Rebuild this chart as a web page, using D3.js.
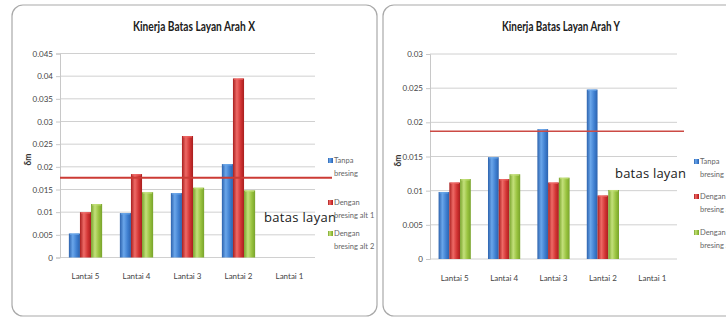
<!DOCTYPE html>
<html>
<head>
<meta charset="utf-8">
<script src="https://cdn.jsdelivr.net/npm/d3@7/dist/d3.min.js"></script>
<style>
  html, body { margin: 0; padding: 0; background: #ffffff; }
  svg { display: block; }
</style>
</head>
<body>
<svg id="chart" width="726" height="322"></svg>
<script>
// Floors and series
const floors = ["Lantai 5", "Lantai 4", "Lantai 3", "Lantai 2", "Lantai 1"];
const seriesNames = ["Tanpa bresing", "Dengan bresing alt 1", "Dengan bresing alt 2"];

// Drift in X direction (δm)
const driftX_tanpa = [0.0053, 0.0098, 0.0142, 0.0206, null];
const driftX_alt1  = [0.0100, 0.0184, 0.0268, 0.0395, null];
const driftX_alt2  = [0.0118, 0.0144, 0.0154, 0.0148, null];
const limitX = 0.0176;
const ticksX = [0, 0.005, 0.01, 0.015, 0.02, 0.025, 0.03, 0.035, 0.04, 0.045];

// Drift in Y direction (δm)
const driftY_tanpa = [0.0098, 0.0149, 0.0190, 0.0248, null];
const driftY_alt1  = [0.0112, 0.0117, 0.0112, 0.0093, null];
const driftY_alt2  = [0.0117, 0.0124, 0.0119, 0.0101, null];
const limitY = 0.0187;
const ticksY = [0, 0.005, 0.01, 0.015, 0.02, 0.025, 0.03];

const svg = d3.select("#chart");
const small = "Lato, 'Liberation Sans', sans-serif";

// Cylinder-like shading for each series
const shades = [
  { id: "gBlue",  dark: "#2c62ad", mid: "#3f7fd0", light: "#6aa6ea" },
  { id: "gRed",   dark: "#a81e1e", mid: "#d23434", light: "#ee6a66" },
  { id: "gGreen", dark: "#78a32c", mid: "#98c23e", light: "#c3e07a" }
];
const defs = svg.append("defs");
shades.forEach(s => {
  const g = defs.append("linearGradient").attr("id", s.id)
    .attr("x1", "0%").attr("x2", "100%").attr("y1", "0%").attr("y2", "0%");
  g.append("stop").attr("offset", "0%").attr("stop-color", s.dark);
  g.append("stop").attr("offset", "35%").attr("stop-color", s.light);
  g.append("stop").attr("offset", "70%").attr("stop-color", s.mid);
  g.append("stop").attr("offset", "100%").attr("stop-color", s.dark);
});

function drawPanel(cfg) {
  const g = svg.append("g");

  // panel frame
  g.append("rect")
    .attr("x", cfg.frame[0]).attr("y", cfg.frame[1])
    .attr("width", cfg.frame[2]).attr("height", cfg.frame[3])
    .attr("rx", 11).attr("fill", "#ffffff")
    .attr("stroke", "#a9a9a9").attr("stroke-width", 1.2);

  // title
  g.append("text")
    .attr("x", cfg.titleX).attr("y", 31)
    .attr("text-anchor", "middle")
    .attr("font-family", small).attr("font-weight", "bold")
    .attr("font-size", 13).attr("fill", "#202020")
    .attr("textLength", cfg.titleLen).attr("lengthAdjust", "spacingAndGlyphs")
    .text(cfg.title);

  const x = d3.scaleBand().domain(floors).range([cfg.left, cfg.right]);
  const y = d3.scaleLinear().domain([0, cfg.max]).range([cfg.bottom, cfg.top]);

  // gridlines
  g.append("g").selectAll("line").data(cfg.ticks).join("line")
    .attr("x1", cfg.left).attr("x2", cfg.right)
    .attr("y1", d => y(d)).attr("y2", d => y(d))
    .attr("stroke", "#d0d0d0").attr("stroke-width", 1);

  // y axis
  const yAxis = d3.axisLeft(y).tickValues(cfg.ticks).tickSize(4).tickPadding(3)
    .tickFormat(d => d === 0 ? "0" : String(+d.toFixed(3)));
  const ya = g.append("g").attr("transform", `translate(${cfg.left},0)`).call(yAxis);
  ya.select(".domain").attr("stroke", "#c8c8c8");
  ya.selectAll(".tick line").attr("stroke", "#c8c8c8");
  ya.selectAll("text").attr("font-family", small).attr("font-size", 8).attr("fill", "#444");

  // x axis labels
  const xAxis = d3.axisBottom(x).tickSize(0).tickPadding(16);
  const xa = g.append("g").attr("transform", `translate(0,${cfg.bottom})`).call(xAxis);
  xa.select(".domain").remove();
  xa.selectAll("text").attr("font-family", small).attr("font-size", 8).attr("fill", "#444");

  // y axis title
  g.append("text")
    .attr("transform", `translate(${cfg.yLabelX},${(cfg.top + cfg.bottom) / 2 + 4}) rotate(-90)`)
    .attr("text-anchor", "middle")
    .attr("font-family", small).attr("font-weight", "bold")
    .attr("font-size", 8.5).attr("fill", "#333")
    .text("δm");

  // bars: three bars centred in each floor band
  const inner = d3.scaleBand().domain(seriesNames)
    .range([0, x.bandwidth()]).paddingOuter(0.8).paddingInner(0);
  const series = [cfg.s0, cfg.s1, cfg.s2];
  series.forEach((vals, si) => {
    const data = floors.map((f, i) => ({ f, v: vals[i] })).filter(d => d.v != null);
    g.append("g").selectAll("rect").data(data).join("rect")
      .attr("x", d => x(d.f) + inner(seriesNames[si]))
      .attr("width", inner.bandwidth())
      .attr("y", d => y(d.v))
      .attr("height", d => y(0) - y(d.v))
      .attr("fill", `url(#${shades[si].id})`);
    // light cap on top
    g.append("g").selectAll("rect").data(data).join("rect")
      .attr("x", d => x(d.f) + inner(seriesNames[si]) + 1)
      .attr("width", inner.bandwidth() - 2)
      .attr("y", d => y(d.v))
      .attr("height", 1.5)
      .attr("fill", shades[si].light).attr("opacity", 0.7);
  });

  // serviceability limit line
  g.append("line")
    .attr("x1", cfg.left).attr("x2", cfg.limitEnd)
    .attr("y1", y(cfg.limit)).attr("y2", y(cfg.limit))
    .attr("stroke", cfg.limitColor).attr("stroke-width", cfg.limitWidth);

  g.append("text")
    .attr("x", cfg.limitLabel[0]).attr("y", cfg.limitLabel[1])
    .attr("font-family", "'Open Sans', 'DejaVu Sans', sans-serif")
    .attr("font-size", 13).attr("fill", "#1a1a1a")
    .attr("textLength", cfg.limitLen).attr("lengthAdjust", "spacing")
    .text("batas layan");

  // legend
  const legendLines = [["Tanpa", "bresing"], ["Dengan", "bresing alt 1"], ["Dengan", "bresing alt 2"]];
  legendLines.forEach((lines, i) => {
    const ly = cfg.legendY[i];
    g.append("rect").attr("x", cfg.legendX).attr("y", ly - 5)
      .attr("width", 5).attr("height", 5)
      .attr("fill", `url(#${shades[i].id})`);
    g.append("text").attr("x", cfg.legendX + 6).attr("y", ly)
      .attr("font-family", small).attr("font-size", 7.5).attr("fill", "#666")
      .text(lines[0]);
    g.append("text").attr("x", cfg.legendX + 6).attr("y", ly + 13)
      .attr("font-family", small).attr("font-size", 7.5).attr("fill", "#666")
      .text(lines[1]);
  });
}

drawPanel({
  frame: [12, 5, 365, 311],
  title: "Kinerja Batas Layan Arah X", titleX: 194, titleLen: 122,
  left: 60, right: 315, top: 53.5, bottom: 257.5,
  max: 0.045, ticks: ticksX, yLabelX: 31,
  s0: driftX_tanpa, s1: driftX_alt1, s2: driftX_alt2,
  limit: limitX, limitEnd: 332, limitColor: "#cc3b35", limitWidth: 2,
  limitLabel: [264, 222], limitLen: 72,
  legendX: 328, legendY: [163, 205, 236]
});

drawPanel({
  frame: [383, 5, 360, 311],
  title: "Kinerja Batas Layan Arah Y", titleX: 561, titleLen: 118,
  left: 430, right: 677, top: 54, bottom: 259,
  max: 0.03, ticks: ticksY, yLabelX: 401,
  s0: driftY_tanpa, s1: driftY_alt1, s2: driftY_alt2,
  limit: limitY, limitEnd: 684, limitColor: "#cc4a44", limitWidth: 1.5,
  limitLabel: [615, 178], limitLen: 71,
  legendX: 694, legendY: [164, 199, 235]
});
</script>
</body>
</html>
